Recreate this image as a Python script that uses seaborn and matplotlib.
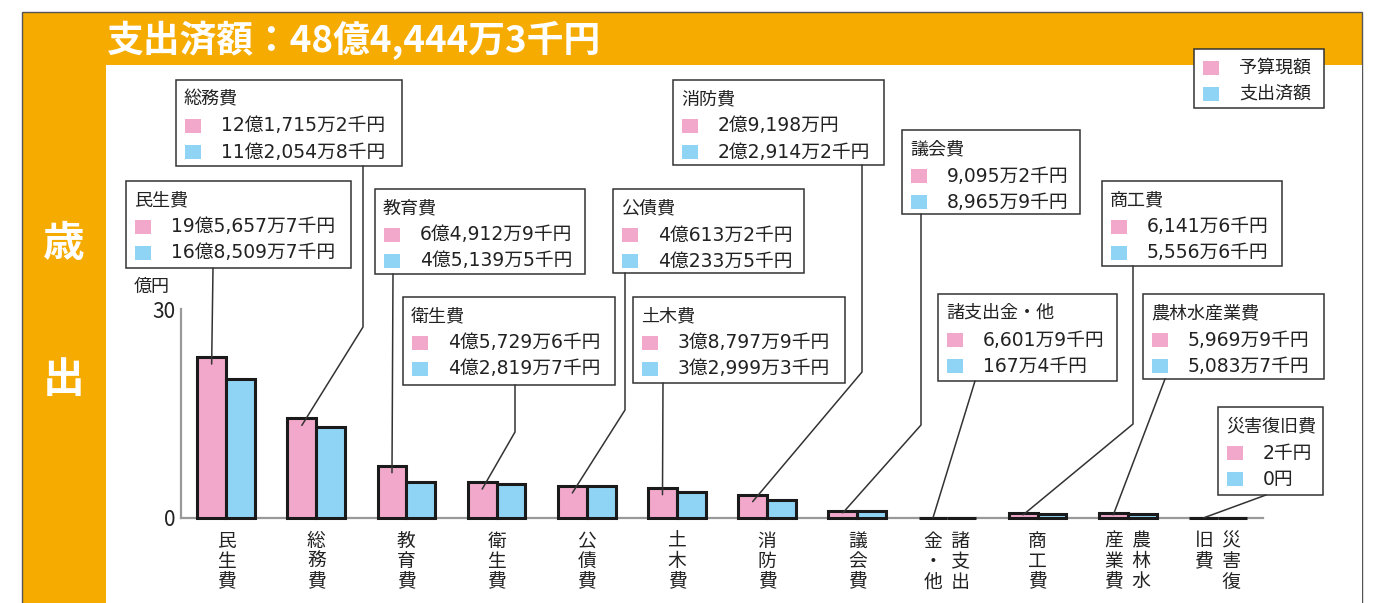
# 歳出 budget vs spent bar chart

import matplotlib.pyplot as plt
import matplotlib
from matplotlib.patches import Rectangle
from matplotlib.lines import Line2D
import numpy as np
import pandas as pd
import seaborn as sns

sns.set_style('white')
plt.rcParams['font.family'] = ['Noto Sans CJK JP', 'DejaVu Sans']
num_font = ['DejaVu Sans', 'Noto Sans CJK JP']

# data (bar heights read against the chart's own axis, 億円)
categories = ['民生費', '総務費', '教育費', '衛生費', '公債費', '土木費',
              '消防費', '議会費', '諸支出金・他', '商工費', '農林水産業費', '災害復旧費']
budget = [23.1, 14.3, 7.5, 5.15, 4.6, 4.35, 3.35, 1.05, 0.05, 0.65, 0.65, 0.02]
spent = [19.9, 13.1, 5.15, 4.85, 4.55, 3.7, 2.55, 1.05, 0.02, 0.6, 0.55, 0.0]
budget_text = ['19億5,657万7千円', '12億1,715万2千円', '6億4,912万9千円', '4億5,729万6千円',
               '4億613万2千円', '3億8,797万9千円', '2億9,198万円', '9,095万2千円',
               '6,601万9千円', '6,141万6千円', '5,969万9千円', '2千円']
spent_text = ['16億8,509万7千円', '11億2,054万8千円', '4億5,139万5千円', '4億2,819万7千円',
              '4億233万5千円', '3億2,999万3千円', '2億2,914万2千円', '8,965万9千円',
              '167万4千円', '5,556万6千円', '5,083万7千円', '0円']
# vertical tick label columns, right column first
tick_columns = [['民生費'], ['総務費'], ['教育費'], ['衛生費'], ['公債費'], ['土木費'],
                ['消防費'], ['議会費'], ['諸支出', '金・他'], ['商工費'], ['農林水', '産業費'],
                ['災害復', '旧費']]
series = ['予算現額', '支出済額']
title = '支出済額：48億4,444万3千円'
y_ticks = [0, 30]

# layout (pixels from the top-left of the image)
W, H = 1376, 603
boxes = [(126, 181, 351, 268), (176, 80, 402, 166), (375, 189, 585, 274),
         (403, 297, 615, 385), (613, 189, 804, 273), (633, 297, 845, 383),
         (673, 80, 884, 165), (902, 130, 1080, 214), (938, 294, 1117, 381),
         (1102, 181, 1282, 266), (1143, 294, 1324, 379), (1218, 407, 1323, 495)]
leaders = [[(213, 268)], [(363, 166), (363, 327)], [(393, 274)],
           [(515, 385), (515, 432)], [(625, 273), (625, 410)], [(663, 383)],
           [(862, 165), (862, 372)], [(921, 214), (921, 425)], [(975, 381)],
           [(1133, 266), (1133, 424)], [(1165, 379)], [(1266, 495)]]

pink = '#F2A8CA'
blue = '#8FD4F5'
orange = '#F6AB00'
grey = '#999999'
ink = '#222222'


def fxy(x, y):
    return x / W, 1 - y / H


def rect(fig, x0, y0, x1, y1, **kw):
    r = Rectangle(fxy(x0, y1), (x1 - x0) / W, (y1 - y0) / H,
                  transform=fig.transFigure, **kw)
    fig.add_artist(r)
    return r


def tategaki(cols):
    n = max(len(c) for c in cols)
    rows = []
    for r in range(n):
        chars = [c[r] if r < len(c) else '\u3000' for c in cols[::-1]]
        rows.append('  '.join(chars))
    return '\n'.join(rows)


df = pd.DataFrame({
    'category': categories * 2,
    'kind': [series[0]] * len(categories) + [series[1]] * len(categories),
    'value': budget + spent,
})

fig = plt.figure(figsize=(W / 100, H / 100), dpi=100)

# orange frame and white panel
rect(fig, 22, 12, 1362, H + 5, facecolor=orange, edgecolor='#555555', lw=1, zorder=-3)
rect(fig, 106, 65, 1362, H + 5, facecolor='white', edgecolor='none', zorder=-2)
fig.text(*fxy(107, 40), title, color='white', fontsize=26.5, fontweight='bold',
         ha='left', va='center')
fig.text(*fxy(64, 244), '歳', color='white', fontsize=30, fontweight='bold',
         ha='center', va='center')
fig.text(*fxy(64, 380), '出', color='white', fontsize=30, fontweight='bold',
         ha='center', va='center')

ax = fig.add_axes([181 / W, (H - 518) / H, (1263 - 181) / W, (518 - 309) / H])
ax.patch.set_visible(False)
sns.barplot(data=df, x='category', y='value', hue='kind', hue_order=series,
            palette=[pink, blue], saturation=1, width=0.64, edgecolor='#1a1a1a',
            linewidth=2.2, legend=False, ax=ax)
for p in ax.patches:
    p.set_clip_on(False)
ax.set_xlim(-0.5, len(categories) - 0.5)
ax.set_ylim(0, 30)
ax.set_xlabel('')
ax.set_ylabel('')
for s in ['top', 'right']:
    ax.spines[s].set_visible(False)
for s in ['left', 'bottom']:
    ax.spines[s].set_color(grey)
    ax.spines[s].set_linewidth(1.6)
    ax.spines[s].set_zorder(0)
ax.set_xticks(range(len(categories)))
ax.set_xticklabels([tategaki(c) for c in tick_columns], fontsize=13.5,
                   linespacing=0.97, va='top', color=ink)
ax.set_xticks(np.arange(0.5, len(categories), 1), minor=True)
ax.tick_params(axis='x', which='major', length=0, pad=9)
ax.tick_params(axis='x', which='minor', direction='in', length=4, width=1.4, color=grey)
ax.set_yticks(y_ticks)
ax.set_yticklabels([str(t) for t in y_ticks], fontsize=15, color=ink)
ax.tick_params(axis='y', direction='in', length=5, width=1.4, color=grey, pad=4)
fig.text(*fxy(152, 287), '億円', fontsize=13, color=ink, ha='center', va='center')

# annotation boxes with leader lines
for i, (x0, y0, x1, y1) in enumerate(boxes):
    rect(fig, x0, y0, x1, y1, facecolor='white', edgecolor='#333333', lw=1.1, zorder=3)
    fig.text(*fxy(x0 + 8, y0 + 19), categories[i], fontsize=13, color=ink,
             ha='left', va='center', zorder=4)
    for k, (txt, col) in enumerate([(budget_text[i], pink), (spent_text[i], blue)]):
        yc = y0 + 46 + 26 * k
        rect(fig, x0 + 9, yc - 7, x0 + 25, yc + 7, facecolor=col, edgecolor='none', zorder=4)
        fig.text(*fxy(x0 + 45, yc), txt, fontsize=13.5, color=ink, family=num_font,
                 ha='left', va='center', zorder=4)
    # end point on the pink bar
    px, py = ax.transData.transform((i - 0.16, budget[i]))
    _, pz = ax.transData.transform((0, 0))
    h = py - pz
    end = (px, H - py + min(7, 0.3 * h))
    pts = leaders[i] + [end]
    xs = [p[0] / W for p in pts]
    ys = [1 - p[1] / H for p in pts]
    fig.add_artist(Line2D(xs, ys, transform=fig.transFigure, color='#333333',
                          lw=1.1, zorder=3))

# legend box
rect(fig, 1194, 49, 1324, 108, facecolor='white', edgecolor='#333333', lw=1.1, zorder=3)
for k, (lab, col) in enumerate(zip(series, [pink, blue])):
    yc = 68 + 26 * k
    rect(fig, 1203, yc - 7, 1219, yc + 7, facecolor=col, edgecolor='none', zorder=4)
    fig.text(*fxy(1239, yc), lab, fontsize=13, color=ink, ha='left', va='center', zorder=4)

fig.savefig('out.png', dpi=100)
